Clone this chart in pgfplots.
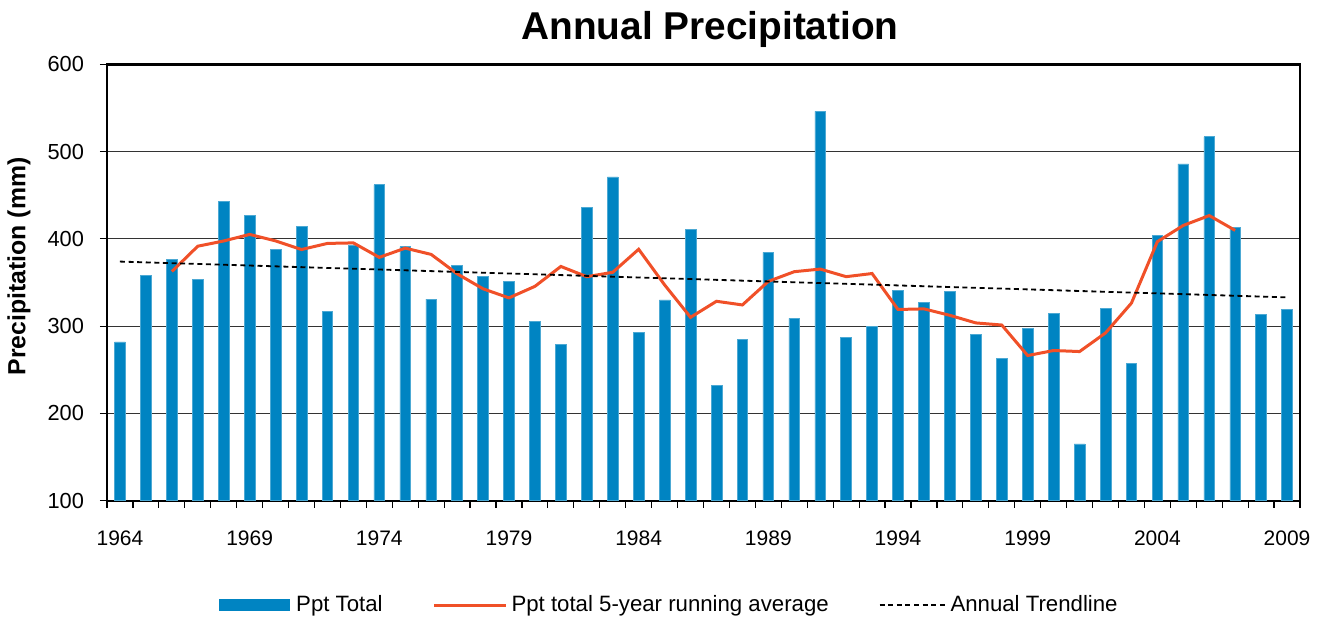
\documentclass[border=0pt]{standalone}
\usepackage{pgfplots}
\pgfplotsset{compat=1.18}
\usepackage{fontspec}
\setmainfont{Liberation Sans}
\definecolor{barblue}{RGB}{0,132,194}
\definecolor{avgred}{RGB}{240,80,40}
\pgfplotsset{
  barlegend/.style={legend image code/.code={\fill[barblue] (0pt,-2.75pt) rectangle (35pt,2.75pt);\path (36.5pt,0pt);}},
  linelegend/.style={legend image code/.code={\draw[##1] (0pt,0pt) -- (#1,0pt);}},
}
\begin{document}
\begin{tikzpicture}
\useasboundingbox (-53.5pt,-58.65pt) rectangle (607.5pt,250.35pt);
\begin{axis}[
  at={(0,0)}, anchor=south west,
  scale only axis, width=596.5pt, height=218.2pt,
  xmin=-0.5, xmax=45.5, ymin=100, ymax=600,
  xtick={0,5,...,45},
  xticklabels={1964,1969,1974,1979,1984,1989,1994,1999,2004,2009},
  minor xtick={-0.5,0.5,...,45.5},
  ytick={100,200,...,600},
  major x tick style={draw=none},
  tick align=outside,
  major tick length=3.5pt, minor tick length=3.5pt,
  xtick pos=bottom, ytick pos=left,
  tick style={black, line width=0.6pt},
  ymajorgrids, major grid style={black!80, line width=0.5pt},
  axis line style={line width=1.2pt},
  /pgf/number format/assume math mode=true,
  tick label style={font=\fontsize{10.5}{12}\selectfont},
  xticklabel style={yshift=-8pt},
  yticklabel style={xshift=-4.5pt, font=\fontsize{10.9}{12}\selectfont},
  title={Annual Precipitation},
  title style={font=\fontsize{19.4}{22}\selectfont\bfseries, at={(rel axis cs:0.5055,1)}, anchor=base, yshift=6.5pt},
  ylabel={Precipitation (mm)},
  ylabel style={font=\fontsize{12.4}{14}\selectfont\bfseries, at={(rel axis cs:-0.0738,0.537)}, anchor=center},
  legend columns=3,
  legend style={draw=none, fill=none, at={(rel axis cs:0.472,-0.239)}, anchor=center,
    font=\fontsize{11.1}{12}\selectfont,
    /tikz/every even column/.append style={column sep=23pt}},
]
\addplot[ybar, bar width=5.35pt, fill=barblue, draw=barblue!70!white, line width=0.3pt, barlegend]
 coordinates {
(0,282) (1,358) (2,376.5) (3,354) (4,442.5) (5,427) (6,388) (7,414) (8,317) (9,393)
(10,462) (11,391) (12,331) (13,370) (14,357) (15,351) (16,305) (17,279) (18,436) (19,471)
(20,292.5) (21,330) (22,411) (23,232) (24,285) (25,384.5) (26,309) (27,546) (28,287.5) (29,300)
(30,341) (31,327) (32,340) (33,291) (34,263) (35,297.5) (36,315) (37,165) (38,320) (39,257)
(40,404) (41,486) (42,517) (43,413) (44,313.5) (45,319)
};
\addlegendentry{Ppt Total}
\addplot[avgred, line width=1.5pt, mark=none, linelegend=36pt]
 coordinates {
(2,362.6) (3,391.6) (4,397.6) (5,405.1) (6,397.7) (7,387.8) (8,394.8) (9,395.4) (10,378.8)
(11,389.4) (12,382.2) (13,360) (14,342.8) (15,332.4) (16,345.6) (17,368.4) (18,356.7)
(19,361.7) (20,388.1) (21,347.3) (22,310.1) (23,328.5) (24,324.3) (25,351.3) (26,362.4)
(27,365.4) (28,356.7) (29,360.3) (30,319.1) (31,319.8) (32,312.4) (33,303.7) (34,301.3)
(35,266.3) (36,272.1) (37,270.9) (38,292.2) (39,326.4) (40,396.8) (41,415.4) (42,426.7)
(43,409.7)
};
\addlegendentry{Ppt total 5-year running average}
\addplot[black, line width=0.9pt, dash pattern=on 2.5pt off 1.8pt, mark=none, linelegend=33pt]
 coordinates {(0,374) (45,333)};
\addlegendentry{Annual Trendline}
\end{axis}
\end{tikzpicture}
\end{document}
